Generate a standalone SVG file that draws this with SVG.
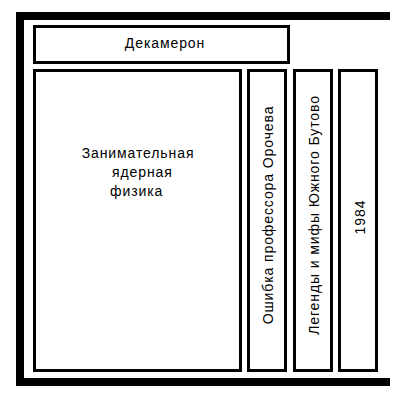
<svg xmlns="http://www.w3.org/2000/svg" width="400" height="400" viewBox="0 0 400 400">
<style>
.book{fill:#fff;stroke:#000;stroke-width:3}
.shelf{fill:#000}
text{font-family:"Liberation Sans",Arial,sans-serif;font-size:14px;letter-spacing:0.9px;fill:#000}
</style>
<rect width="400" height="400" fill="#fff"/>
<g id="shelf">
<rect class="shelf" x="16" y="12" width="374" height="8"/>
<rect class="shelf" x="16" y="12" width="8" height="374"/>
<rect class="shelf" x="16" y="378" width="374" height="8"/>
</g>
<g id="decameron">
<rect class="book" x="34.5" y="26.5" width="254" height="36"/>
<text x="165" y="48" text-anchor="middle">Декамерон</text>
</g>
<g id="physics">
<rect class="book" x="34.5" y="70.5" width="206" height="300"/>
<text x="138" y="158" text-anchor="middle">Занимательная</text>
<text x="112" y="177">ядерная</text>
<text x="110" y="196">физика</text>
</g>
<g id="orochev">
<rect class="book" x="248.5" y="70.5" width="37" height="300"/>
<text transform="translate(273,215) rotate(-90)" text-anchor="middle">Ошибка профессора Орочева</text>
</g>
<g id="butovo">
<rect class="book" x="294.5" y="70.5" width="37" height="300"/>
<text transform="translate(318.5,215) rotate(-90)" text-anchor="middle">Легенды и мифы Южного Бутово</text>
</g>
<g id="b1984">
<rect class="book" x="339.5" y="70.5" width="37" height="300"/>
<text transform="translate(364.5,217) rotate(-90)" text-anchor="middle">1984</text>
</g>
</svg>
